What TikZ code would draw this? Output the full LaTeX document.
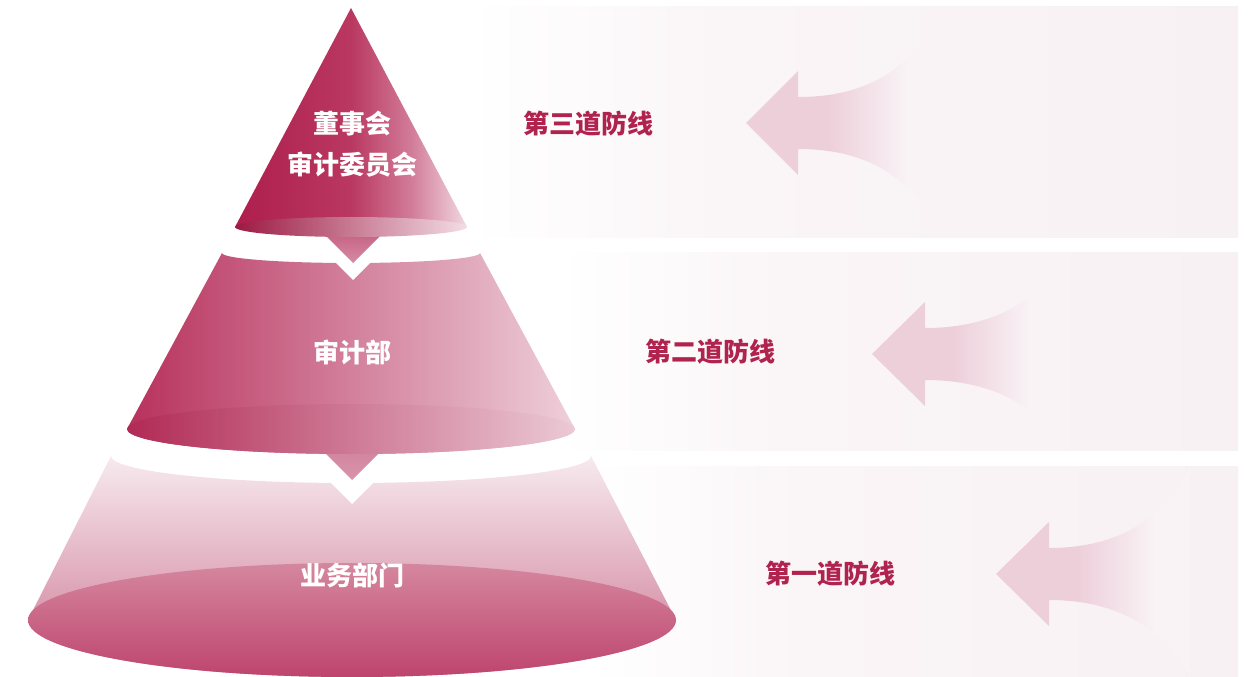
\documentclass[tikz,border=0pt]{standalone}
\usepackage{fontspec}
\newfontfamily\cjk{Noto Sans CJK SC}
\definecolor{labelred}{HTML}{B0234F}
\definecolor{arrowpink}{HTML}{EDCFDA}
\definecolor{arrowend}{HTML}{F9F3F6}
\definecolor{panelmid}{HTML}{FAF5F7}
\definecolor{panelend}{HTML}{F8F1F4}
\definecolor{cAleft}{HTML}{AE1E4D}
\definecolor{cAmid}{HTML}{B93861}
\definecolor{cAlight}{HTML}{D27C99}
\definecolor{cAright}{HTML}{F1D9E1}
\definecolor{eAleft}{HTML}{9C1943}
\definecolor{eAmid}{HTML}{BB4D70}
\definecolor{eAright}{HTML}{F3DDE5}
\definecolor{tAtop}{HTML}{C45B7D}
\definecolor{tAbot}{HTML}{D68BA4}
\definecolor{cBleft}{HTML}{B7315D}
\definecolor{cBmid}{HTML}{CC6E8E}
\definecolor{cBright}{HTML}{EECFDA}
\definecolor{eBleft}{HTML}{B12A56}
\definecolor{eBmid}{HTML}{C56385}
\definecolor{eBright}{HTML}{EBC9D5}
\definecolor{tBtop}{HTML}{D07F9A}
\definecolor{tBbot}{HTML}{D994AB}
\definecolor{cCtop}{HTML}{F7EAEF}
\definecolor{cCmid}{HTML}{E3AEC0}
\definecolor{cCbot}{HTML}{CD7894}
\definecolor{eCtop}{HTML}{D5879F}
\definecolor{eCbot}{HTML}{BE446E}
\pgfdeclarehorizontalshading{arrowfade}{100bp}{color(0bp)=(arrowpink); color(25bp)=(arrowpink); color(46bp)=(arrowpink); color(66bp)=(arrowend); color(100bp)=(arrowend)}
\pgfdeclarehorizontalshading{panelfade}{100bp}{color(0bp)=(white); color(25bp)=(white); color(42bp)=(panelmid); color(75bp)=(panelend); color(100bp)=(panelend)}
\pgfdeclarehorizontalshading{coneAfade}{100bp}{color(0bp)=(cAleft); color(25bp)=(cAleft); color(50bp)=(cAmid); color(63bp)=(cAlight); color(75bp)=(cAright); color(100bp)=(cAright)}
\begin{document}
\begin{tikzpicture}[x=0.75pt,y=-0.75pt,
  conetext/.style={text=white,font=\cjk\bfseries\fontsize{19.5}{22}\selectfont,inner sep=0pt},
  linelabel/.style={text=labelred,font=\cjk\bfseries\fontsize{19.5}{22}\selectfont,inner sep=0pt},
  panel/.style={shading=panelfade,draw=none},
  flowarrow/.style={shading=arrowfade,draw=none},
  gapwhite/.style={fill=white,draw=none}]
\useasboundingbox (0,0) rectangle (1252,677);
% background panels
\path[panel] (470,7) rectangle (1238,238);
\path[panel] (560,253) rectangle (1238,450);
\path[panel] (590,466) rectangle (1238,677);
% arrows
\path[flowarrow] (746,123) -- (798,71) -- (798,97) .. controls (868,97) and (915,68) .. (942,7) -- (942,238) .. controls (915,178) and (868,149) .. (798,149) -- (798,175) -- cycle;
\path[flowarrow] (872,354) -- (925,302) -- (925,328) .. controls (995,328) and (1040,300) .. (1065,253) -- (1065,450) .. controls (1040,408) and (995,380) .. (925,380) -- (925,406) -- cycle;
\path[flowarrow] (996,574) -- (1049,522) -- (1049,548) .. controls (1119,548) and (1165,518) .. (1190,466) -- (1190,677) .. controls (1165,630) and (1119,600) .. (1049,600) -- (1049,626) -- cycle;
% labels
\node[linelabel] (l3) at (588,124) {第三道防线};
\node[linelabel] (l2) at (710,352) {第二道防线};
\node[linelabel] (l1) at (830,574) {第一道防线};
% bottom cone
\path[top color=cCtop,middle color=cCmid,bottom color=cCbot] (111,456) arc[start angle=180,end angle=0,x radius=240,y radius=27] -- (676,620) arc[start angle=0,end angle=180,x radius=324,y radius=57] -- cycle;
\path[top color=eCtop,bottom color=eCbot] (352,620) ellipse[x radius=324,y radius=57];
\path[gapwhite] (322,474) -- (382,474) -- (352,504) -- cycle;
% middle cone
\path[top color=tBtop,bottom color=tBbot] (312,440) -- (392,440) -- (352,480) -- cycle;
\path[left color=cBleft,middle color=cBmid,right color=cBright] (222,253) arc[start angle=180,end angle=0,x radius=129,y radius=10] -- (575,429) arc[start angle=0,end angle=180,x radius=224,y radius=25] -- cycle;
\path[left color=eBleft,middle color=eBmid,right color=eBright] (351,429) ellipse[x radius=224,y radius=25];
\path[gapwhite] (328,255) -- (378,255) -- (353,280) -- cycle;
% top cone
\path[top color=tAtop,bottom color=tAbot] (318,228) -- (388,228) -- (353,263) -- cycle;
\path[shading=coneAfade] (351,8) -- (467,227) -- (235,227) -- cycle;
\path[left color=eAleft,middle color=eAmid,right color=eAright] (351,227) ellipse[x radius=116,y radius=10];
% cone texts
\node[conetext] (t1a) at (352,124) {董事会};
\node[conetext] (t1b) at (352,165) {审计委员会};
\node[conetext] (t2) at (352,352) {审计部};
\node[conetext] (t3) at (352,575) {业务部门};
\end{tikzpicture}
\end{document}
